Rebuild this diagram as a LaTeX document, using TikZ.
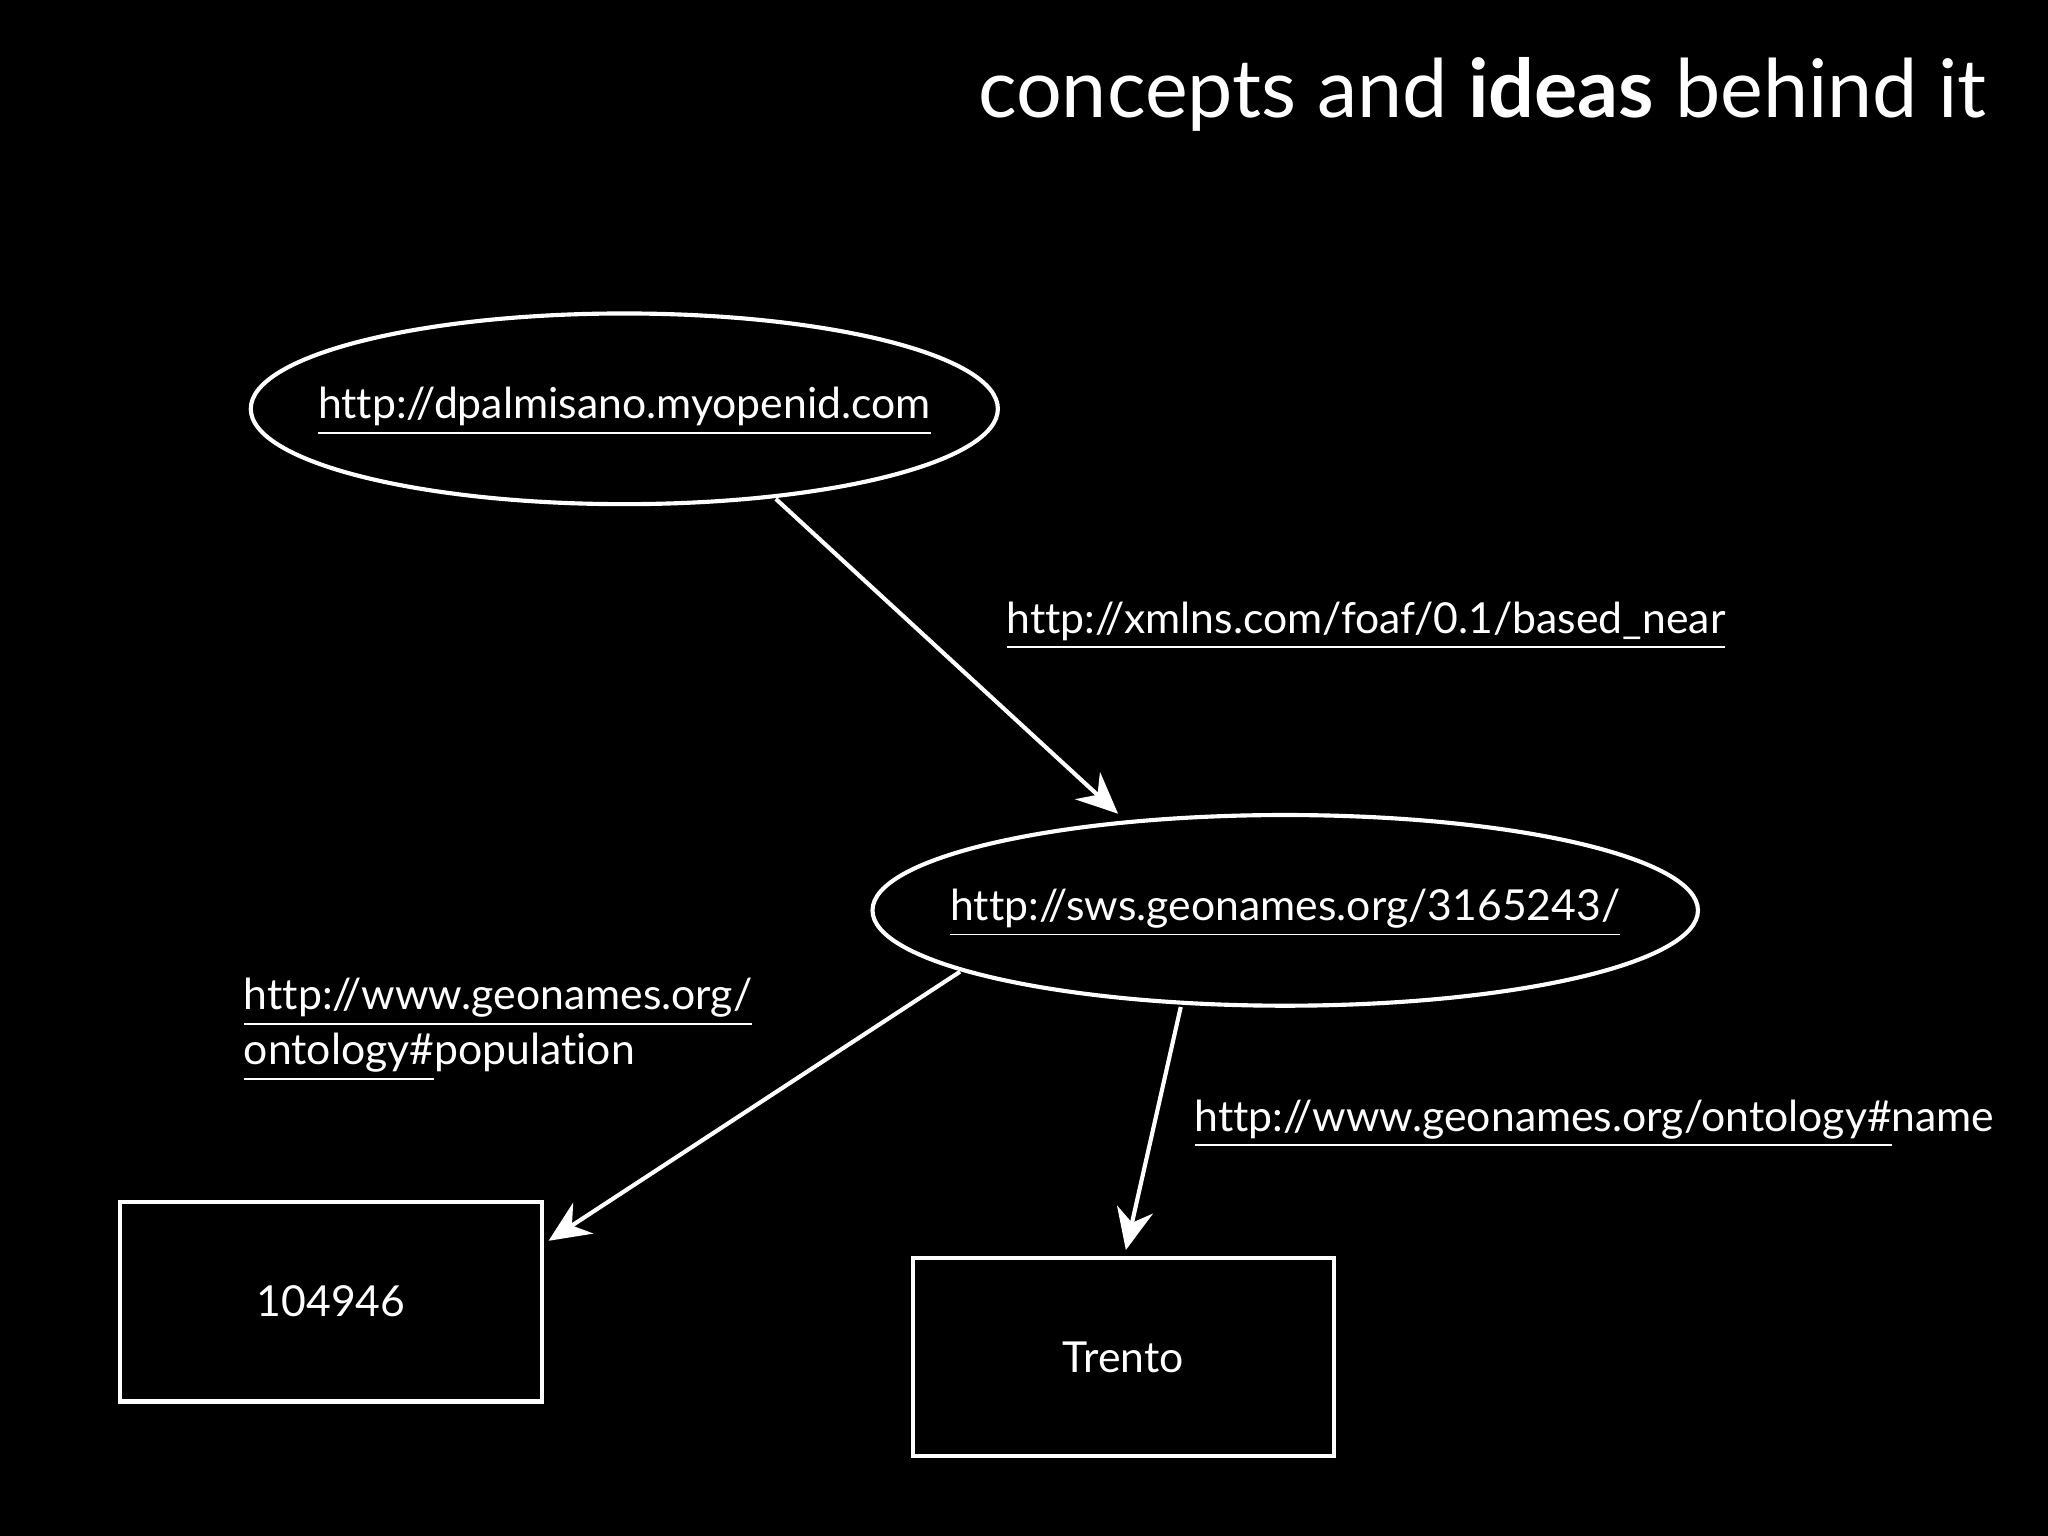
\documentclass[tikz,border=0pt]{standalone}
\usepackage{fontspec}
\setmainfont[Ligatures=NoCommon]{Lato}
\usetikzlibrary{shapes.geometric,arrows.meta}
\begin{document}
\begin{tikzpicture}[x=0.01cm,y=-0.01cm,
  ln/.style={white,line width=0.9pt},
  arr/.style={ln,-{Stealth[length=9pt,width=8pt]}},
  lbl/.style={text=white,font=\fontsize{9.3pt}{12pt}\selectfont,inner sep=0pt}]
\fill[black] (0,0) rectangle (1568,1176);
\useasboundingbox (0,0) rectangle (1568,1176);
\node[text=white,anchor=base east,inner sep=0pt,font=\fontsize{17.6pt}{20pt}\selectfont] (title) at (1522,90) {concepts and \textbf{ideas} behind it};
\draw[ln] (478,313) ellipse [x radius=286,y radius=73];
\node[lbl] (e1) at (478,315) {\underline{http://dpalmisano.myopenid.com}};
\draw[ln] (984,697) ellipse [x radius=316,y radius=73];
\node[lbl] (e2) at (984,699) {\underline{http://sws.geonames.org/3165243/}};
\node[ln,draw,minimum width=3.23cm,minimum height=1.53cm,text=white,font=\fontsize{9.3pt}{11pt}\selectfont] (b1) at (253.5,996.5) {104946};
\node[ln,draw,minimum width=3.22cm,minimum height=1.52cm,text=white,font=\fontsize{9.3pt}{11pt}\selectfont] (b2) at (860,1039) {Trento};
\coordinate (a1s) at (594,382); \coordinate (a1e) at (856,623);
\coordinate (a2s) at (735,744); \coordinate (a2e) at (420,950);
\coordinate (a3s) at (904,771); \coordinate (a3e) at (862,957);
\draw[arr] (a1s) -- (a1e);
\draw[arr] (a2s) -- (a2e);
\draw[arr] (a3s) -- (a3e);
\node[lbl,anchor=base west] (l1) at (770,485) {\underline{http://xmlns.com/foaf/0.1/based\_near}};
\node[lbl,anchor=base west,align=left] (l2) at (186,815) {\underline{http://www.geonames.org/}\\\underline{ontology\#}population};
\node[lbl,anchor=base west] (l3) at (914,866) {\underline{http://www.geonames.org/ontology\#}name};
\end{tikzpicture}
\end{document}
